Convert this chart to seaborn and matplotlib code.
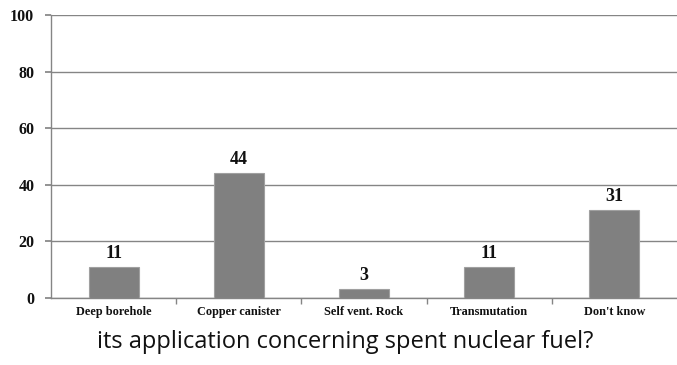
import matplotlib
matplotlib.use("Agg")
import matplotlib.pyplot as plt
import seaborn as sns
import pandas as pd

categories = ["Deep borehole", "Copper canister", "Self vent. Rock", "Transmutation", "Don't know"]
values = [11, 44, 3, 11, 31]
yticks = [0, 20, 40, 60, 80, 100]
caption = "its application concerning spent nuclear fuel?"

sns.set_theme(style="white")
plt.rcParams["font.family"] = ["Liberation Serif", "DejaVu Serif"]

df = pd.DataFrame({"category": categories, "value": values})

fig = plt.figure(figsize=(6.77, 3.65), dpi=100)
ax = fig.add_axes([0.0753, 0.1836, 0.9247, 0.7753])

sns.barplot(data=df, x="category", y="value", ax=ax, color="#808080",
            saturation=1, width=0.4, edgecolor="#a0a0a0", linewidth=0.8, zorder=3)

ax.set_ylim(0, 100)
ax.set_xlim(-0.5, len(categories) - 0.5)
ax.set_yticks(yticks)
ax.set_yticklabels([str(t) for t in yticks], fontsize=11.5, fontweight="bold", color="#111111")
ax.yaxis.grid(True, color="#858585", linewidth=1.0, zorder=0)
ax.set_axisbelow(True)
ax.tick_params(axis="y", length=4, color="#858585", pad=8, left=True)

ax.set_xticks(range(len(categories)))
ax.set_xticklabels(categories, fontsize=8.8, fontweight="bold", color="#111111")
ax.tick_params(axis="x", length=0, pad=6)
ax.set_xticks([i + 0.5 for i in range(len(categories) - 1)], minor=True)
ax.tick_params(axis="x", which="minor", length=4, color="#858585", bottom=True, direction="out")

for s in ["top", "right"]:
    ax.spines[s].set_visible(False)
for s in ["left", "bottom"]:
    ax.spines[s].set_color("#858585")
    ax.spines[s].set_linewidth(1.0)

ax.set_xlabel("")
ax.set_ylabel("")

for i, v in enumerate(values):
    ax.text(i, v + 1.8, str(v), ha="center", va="bottom", fontsize=13,
            fontweight="bold", color="#111111")

fig.text(0.51, 0.063, caption, ha="center", va="center", fontsize=17,
         family=["Open Sans", "DejaVu Sans"], color="#111111")

fig.savefig("out.png", dpi=100)
